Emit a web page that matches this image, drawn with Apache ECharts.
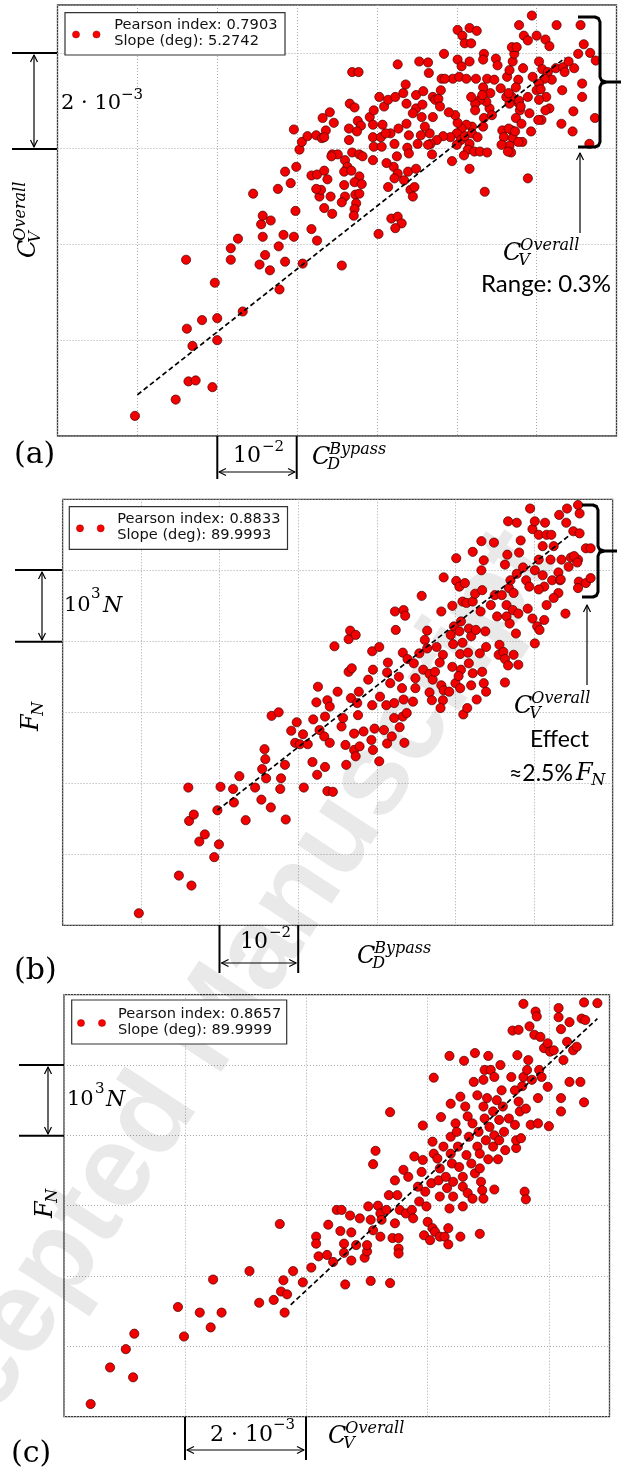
<!DOCTYPE html>
<html>
<head>
<meta charset="utf-8">
<script src="https://cdn.jsdelivr.net/npm/echarts@6/dist/echarts.min.js"></script>
<style>
  html, body { margin: 0; padding: 0; background: #fff; }
  #chart { width: 621px; height: 1473px; }
</style>
</head>
<body>
<div id="chart"></div>
<script>
// values are in grid units (one grid step = 10^-2 for C_D, 2*10^-3 for C_V, 10^3 N for F_N)

// (a) C_V^Overall vs C_D^Bypass
const pointsA = [
  [0.97,0.21],[1.48,0.38],[1.64,0.57],[1.73,0.58],[1.94,0.51],[1.69,0.94],[1.62,1.12],[1.81,1.21],[2.00,1.23],[2.00,1.00],
  [1.97,1.60],[1.61,1.84],[2.32,1.30],[2.78,1.53],[2.17,1.84],[2.17,1.96],[2.26,2.06],[2.45,2.53],[2.53,1.79],[2.60,1.89],
  [2.66,1.73],[2.57,2.08],[2.55,2.21],[2.57,2.30],[2.67,2.25],[2.77,1.98],[2.83,2.10],[2.85,1.82],[2.96,2.08],[2.98,2.35],
  [2.76,2.58],[2.92,2.64],[2.85,2.76],[2.99,2.81],[3.07,1.80],[3.18,2.16],[3.25,2.04],[3.56,1.78],[2.96,3.20],[3.03,2.99],
  [3.06,3.07],[3.13,3.13],[3.24,3.14],[3.31,3.11],[3.36,3.19],[3.32,3.32],[3.41,3.38],[3.46,3.27],[3.69,3.80],[3.77,3.80],
  [3.66,3.47],[3.72,3.43],[3.76,3.29],[3.91,3.33],[3.96,3.40],[4.03,3.54],[4.09,3.44],[4.26,3.88],[4.14,3.51],[4.23,3.54],
  [4.33,3.58],[4.36,3.67],[4.37,3.47],[4.49,3.42],[4.49,3.56],[4.58,3.60],[4.64,3.90],[4.65,3.79],[4.70,3.54],[4.73,3.51],
  [4.77,3.52],[4.84,3.99],[4.80,3.61],[4.81,3.73],[4.95,3.73],[5.01,4.24],[5.07,4.18],[5.16,4.26],[5.25,4.23],[5.10,4.10],
  [5.18,4.10],[5.01,3.93],[5.16,3.91],[5.06,3.86],[5.03,3.75],[5.12,3.73],[5.24,3.73],[5.34,3.99],[5.33,3.93],[5.38,3.73],
  [5.47,3.72],[5.49,3.94],[5.51,3.87],[5.42,3.58],[5.33,3.64],[5.55,3.63],[5.63,3.75],[5.66,3.82],[5.70,3.91],[5.72,3.99],
  [5.69,4.06],[5.75,4.06],[5.78,4.29],[5.84,4.18],[5.94,4.39],[5.89,4.13],[6.00,4.18],[6.11,4.14],[6.16,4.07],[6.25,4.29],
  [6.55,4.29],[6.59,4.09],[6.67,4.00],[6.74,3.92],[6.52,3.99],[6.57,3.68],[6.57,3.54],[6.46,3.39],[6.73,3.32],[6.31,3.26],
  [6.45,3.18],[6.66,3.05],[6.32,3.61],[6.16,3.42],[6.06,3.30],[5.93,3.18],[6.03,3.91],[6.07,3.83],[6.14,3.80],[6.24,3.84],
  [6.33,3.85],[6.40,3.91],[6.47,3.84],[6.35,3.80],[6.19,3.72],[6.10,3.73],[6.03,3.68],[6.00,3.61],[6.05,3.62],[6.12,3.54],
  [6.03,3.51],[5.95,3.75],[5.89,3.54],[5.83,3.84],[5.77,3.72],[5.74,3.64],[5.69,3.54],[5.77,3.48],[5.66,3.47],[5.62,3.54],
  [5.79,3.40],[5.74,3.32],[5.81,3.26],[5.69,3.19],[5.57,3.19],[5.59,3.12],[5.70,3.11],[5.66,3.03],[5.56,3.04],[5.68,2.96],
  [5.82,3.07],[5.89,2.69],[5.41,3.42],[5.37,3.49],[5.29,3.51],[5.23,3.47],[5.18,3.54],[5.23,3.40],[5.34,3.32],[5.33,3.23],
  [5.19,3.23],[5.12,3.25],[5.06,3.21],[5.01,3.27],[4.98,3.35],[5.00,3.16],[5.05,3.09],[5.00,3.04],[5.10,3.13],[5.19,3.16],
  [5.26,3.12],[5.16,3.05],[5.14,2.99],[5.22,2.97],[5.29,2.97],[5.38,2.96],[5.09,2.93],[5.16,2.79],[5.35,2.55],[4.92,3.12],
  [4.83,3.13],[4.75,3.09],[4.67,3.05],[4.66,3.16],[4.60,3.23],[4.55,3.14],[4.51,3.05],[4.64,3.04],[4.69,2.94],[4.90,3.38],
  [4.79,3.44],[4.70,3.33],[4.56,3.33],[4.57,3.46],[4.45,3.37],[4.37,3.26],[4.40,3.14],[4.27,3.21],[4.17,3.16],[4.22,3.05],
  [4.38,3.01],[4.40,2.95],[4.25,2.92],[4.21,2.81],[4.12,2.85],[4.26,2.74],[4.39,2.76],[4.49,2.79],[4.42,2.57],[4.45,2.50],
  [4.34,2.67],[4.22,2.69],[4.14,2.60],[4.18,2.27],[4.26,2.29],[4.31,2.22],[4.23,2.17],[4.02,2.11],[3.95,2.88],[3.96,3.02],
  [3.95,3.12],[4.05,3.12],[4.07,3.25],[3.95,3.25],[3.80,3.24],[3.65,3.21],[3.65,3.09],[3.69,2.96],[3.78,2.94],[3.82,2.92],
  [3.44,2.94],[3.51,2.94],[3.60,2.88],[3.63,2.81],[3.59,2.76],[3.68,2.77],[3.78,2.71],[3.72,2.65],[3.59,2.62],[3.60,2.50],
  [3.56,2.44],[3.73,2.52],[3.74,2.43],[3.72,2.37],[3.71,2.30],[3.44,2.32],[3.34,2.38],[3.42,2.50],[3.28,2.50],[3.30,2.57],
  [3.24,2.58],[3.18,2.72],[3.25,2.73],[3.34,2.77],[3.38,2.68],[3.34,3.12],[3.75,3.18],[4.06,3.02],[4.11,3.16],[4.47,2.60],
  [3.43,2.92],[4.94,2.87],[4.85,3.73],[5.44,3.35],[3.81,2.63],[3.78,2.53],[4.53,3.91],[5.32,3.56],[5.65,3.58],[5.78,3.50],
  [5.80,3.44],[5.91,3.37],[5.64,2.97],[5.65,3.21],[5.73,3.18],[5.77,3.07],[6.11,3.40],[6.02,3.30]
];
const trendA = [[1.00, 0.43], [6.36, 3.95]];
const legendA = ['Pearson index: 0.7903', 'Slope (deg): 5.2742'];

// (b) F_N vs C_D^Bypass
const pointsB = [
  [0.97,0.17],[1.48,0.70],[1.64,0.56],[1.74,1.18],[1.81,1.28],[1.61,1.47],[1.67,1.56],[1.93,0.96],[1.99,1.14],[1.97,1.62],
  [1.60,1.94],[2.01,1.95],[2.17,1.92],[2.18,1.73],[2.25,2.10],[2.33,1.48],[2.45,1.94],[2.53,1.77],[2.54,2.20],[2.58,2.34],
  [2.57,2.48],[2.59,2.07],[2.65,1.66],[2.77,1.92],[2.78,2.07],[2.83,2.26],[2.84,1.49],[2.66,2.95],[2.75,3.00],[2.91,2.74],
  [2.98,2.86],[2.96,2.57],[3.02,2.55],[3.06,2.69],[3.07,1.94],[3.12,2.55],[3.18,2.30],[3.24,2.12],[3.34,2.23],[3.37,1.89],
  [3.44,1.88],[3.19,2.90],[3.23,3.14],[3.25,3.36],[3.34,2.94],[3.37,3.17],[3.40,3.08],[3.27,2.75],[3.33,2.66],[3.40,2.57],
  [3.46,3.93],[3.50,3.29],[3.55,2.80],[3.60,2.54],[3.57,2.92],[3.61,2.26],[3.64,4.03],[3.66,4.15],[3.73,4.09],[3.64,3.57],
  [3.68,3.62],[3.67,3.20],[3.77,3.29],[3.75,3.13],[3.76,2.96],[3.71,2.70],[3.71,2.47],[3.73,2.38],[3.78,2.52],[3.83,2.73],
  [3.89,3.46],[3.94,3.86],[4.03,3.92],[3.95,3.60],[3.94,3.10],[3.97,2.77],[3.93,2.61],[3.95,2.47],[4.03,2.31],[4.09,2.75],
  [4.04,3.22],[4.12,3.10],[4.14,3.70],[4.13,3.56],[4.17,3.41],[4.22,3.13],[4.22,2.92],[4.13,2.56],[4.19,2.66],[4.23,4.42],
  [4.34,4.44],[4.36,4.36],[4.24,4.16],[4.33,3.84],[4.39,3.75],[4.28,3.50],[4.32,3.34],[4.34,3.18],[4.33,2.94],[4.38,2.99],
  [4.29,2.79],[4.35,2.57],[4.47,3.69],[4.54,3.83],[4.49,3.48],[4.49,3.34],[4.46,3.15],[4.57,4.64],[4.64,4.15],[4.61,4.02],
  [4.64,3.90],[4.59,3.60],[4.67,3.54],[4.71,3.46],[4.67,3.28],[4.70,3.17],[4.76,3.92],[4.74,3.57],[4.82,3.38],[4.84,3.81],
  [4.80,3.70],[4.82,4.42],[4.85,4.90],[4.85,3.31],[4.84,3.17],[4.81,3.06],[4.96,4.50],[4.98,4.21],[4.94,4.09],[4.97,3.96],
  [4.96,3.64],[5.00,3.41],[4.92,3.29],[5.01,5.17],[5.01,4.85],[5.05,4.77],[5.09,4.56],[5.12,4.82],[5.07,4.28],[5.05,4.14],
  [5.09,3.98],[5.06,3.82],[5.07,3.60],[5.04,3.51],[5.06,3.34],[5.10,2.97],[5.15,3.06],[5.14,4.54],[5.22,4.56],[5.22,5.26],
  [5.25,4.67],[5.17,4.18],[5.20,4.07],[5.16,3.84],[5.17,3.69],[5.22,3.55],[5.20,3.38],[5.27,3.18],[5.26,4.16],[5.32,4.42],
  [5.34,4.72],[5.33,5.00],[5.33,5.41],[5.36,5.14],[5.31,3.83],[5.34,3.57],[5.36,3.41],[5.39,3.29],[5.38,4.14],[5.39,3.92],
  [5.45,4.51],[5.49,5.39],[5.50,4.65],[5.53,4.35],[5.56,3.95],[5.55,3.81],[5.61,3.85],[5.63,3.75],[5.63,3.42],[5.67,3.66],
  [5.74,3.81],[5.80,3.67],[5.65,4.35],[5.69,4.25],[5.65,4.51],[5.73,4.44],[5.77,4.11],[5.80,4.39],[5.68,4.75],[5.70,4.86],
  [5.74,4.68],[5.78,4.95],[5.59,4.65],[5.63,5.08],[5.66,5.22],[5.67,5.69],[5.78,5.67],[5.83,5.42],[5.81,5.25],[5.86,5.04],
  [5.90,4.86],[5.94,4.77],[5.92,4.46],[5.98,4.32],[6.01,3.97],[6.04,4.21],[6.07,4.16],[5.95,5.87],[5.98,5.58],[6.01,5.69],
  [6.06,5.50],[6.16,5.50],[6.22,5.50],[6.14,5.67],[6.11,5.34],[6.06,5.15],[6.01,5.00],[6.11,4.93],[6.13,4.77],[6.06,4.73],
  [6.21,5.15],[6.25,5.34],[6.23,4.86],[6.31,4.97],[6.33,4.86],[6.31,4.68],[6.25,4.61],[6.16,4.51],[6.13,4.30],[6.40,4.39],
  [6.32,5.78],[6.41,5.67],[6.42,5.87],[6.50,5.55],[6.56,5.92],[6.58,5.80],[6.58,5.52],[6.35,5.15],[6.44,5.05],[6.47,5.18],
  [6.56,5.15],[6.66,5.31],[6.72,5.31],[6.57,4.84],[6.66,4.82],[6.72,4.89],[6.56,4.75],[6.51,5.20],[6.55,5.11],[6.34,4.87]
];
const trendB = [[1.97, 1.62], [6.46, 5.50]];
const legendB = ['Pearson index: 0.8833', 'Slope (deg): 89.9993'];

// (c) F_N vs C_V^Overall
const pointsC = [
  [0.22,0.18],[0.38,0.70],[0.57,0.56],[0.51,0.96],[0.58,1.18],[0.94,1.56],[0.99,1.14],[1.12,1.48],[1.21,1.27],[1.30,1.48],
  [1.23,1.95],[1.53,2.07],[1.61,1.62],[1.73,1.66],[1.79,1.78],[1.84,1.74],[1.82,1.48],[1.81,1.94],[1.89,2.07],[1.97,1.91],
  [1.78,2.74],[2.04,2.12],[2.08,2.56],[2.08,2.46],[2.10,2.28],[2.17,2.30],[2.22,2.20],[2.18,2.73],[2.25,2.94],[2.29,2.94],
  [2.28,2.64],[2.31,2.46],[2.31,2.33],[2.32,1.88],[2.36,2.86],[2.37,2.62],[2.37,2.22],[2.41,2.44],[2.44,2.82],[2.48,2.26],
  [2.50,2.35],[2.50,2.44],[2.51,2.99],[2.53,2.80],[2.53,1.93],[2.55,2.65],[2.57,3.78],[2.55,3.59],[2.59,3.00],[2.61,2.89],
  [2.62,2.80],[2.61,2.56],[2.66,2.94],[2.68,3.15],[2.69,4.33],[2.69,1.90],[2.71,2.54],[2.73,2.75],[2.76,2.54],[2.76,2.39],
  [2.76,2.32],[2.73,3.36],[2.75,3.15],[2.77,2.94],[2.80,3.51],[2.82,2.89],[2.84,3.41],[2.87,2.94],[2.88,2.82],[2.89,3.70],
  [2.92,3.27],[2.93,3.06],[2.95,3.48],[2.96,3.65],[2.96,4.14],[2.97,2.58],[2.98,3.20],[2.99,2.99],[3.00,2.77],[3.02,2.51],
  [3.04,2.68],[3.03,3.32],[3.04,3.91],[3.05,3.74],[3.05,4.82],[3.06,2.63],[3.10,2.56],[3.08,3.67],[3.10,3.53],[3.09,3.36],
  [3.10,3.13],[3.11,4.26],[3.13,3.84],[3.14,2.56],[3.15,3.41],[3.16,3.25],[3.17,2.68],[3.17,2.45],[3.18,5.13],[3.18,2.96],
  [3.19,4.45],[3.19,3.98],[3.19,3.74],[3.20,3.60],[3.21,3.34],[3.21,3.13],[3.23,4.17],[3.24,4.05],[3.25,3.84],[3.26,3.55],
  [3.27,4.55],[3.27,2.56],[3.29,2.99],[3.29,3.41],[3.29,3.27],[3.30,5.06],[3.31,4.41],[3.32,3.72],[3.33,4.27],[3.33,3.18],
  [3.34,3.98],[3.36,3.60],[3.37,4.17],[3.38,4.76],[3.37,3.10],[3.39,5.17],[3.39,3.46],[3.41,3.84],[3.41,4.57],[3.42,4.05],
  [3.43,3.74],[3.43,3.53],[3.43,2.60],[3.44,3.34],[3.45,3.22],[3.46,4.41],[3.46,3.10],[3.46,4.79],[3.47,4.24],[3.47,4.93],
  [3.48,3.93],[3.49,4.53],[3.50,3.66],[3.50,5.13],[3.51,4.12],[3.52,4.93],[3.54,4.34],[3.54,3.84],[3.55,3.23],[3.55,4.83],
  [3.55,4.00],[3.57,4.50],[3.58,3.66],[3.59,4.22],[3.59,3.93],[3.60,5.00],[3.61,4.64],[3.62,4.41],[3.63,4.05],[3.64,3.79],
  [3.67,4.24],[3.69,4.83],[3.70,5.49],[3.72,4.64],[3.72,4.15],[3.73,3.82],[3.73,3.93],[3.74,5.14],[3.75,5.50],[3.75,4.48],
  [3.76,4.34],[3.77,3.96],[3.78,4.70],[3.79,5.87],[3.79,4.83],[3.80,3.20],[3.81,3.09],[3.81,4.38],[3.82,4.93],[3.83,5.07],
  [3.84,5.55],[3.85,4.15],[3.86,4.79],[3.88,5.43],[3.89,5.76],[3.90,5.69],[3.91,4.17],[3.91,4.53],[3.92,4.93],[3.93,5.40],
  [3.94,4.83],[3.96,5.24],[3.99,5.31],[3.99,4.69],[4.00,4.13],[4.01,5.19],[4.04,5.21],[4.08,5.81],[4.08,5.68],[4.10,4.53],
  [4.10,5.51],[4.10,4.34],[4.12,5.07],[4.15,5.33],[4.17,5.61],[4.17,4.76],[4.20,5.21],[4.23,5.26],[4.26,4.76],[4.27,5.66],
  [4.29,5.89],[4.29,4.47],[4.30,5.64],[4.40,5.88]
];
const trendC = [[1.87, 1.59], [4.40, 5.66]];
const legendC = ['Pearson index: 0.8657', 'Slope (deg): 89.9999'];

// layout of the three panels (pixels)
const panels = [
  { pts: pointsA, trend: trendA, legend: legendA, xMax: 7, yMax: 4.5,
    grid: { left: 57.5, top: 5, width: 559, height: 431 },
    box: [65, 12.7, 220, 42.3], dotY: 34.5, dotX: [76, 96.5], textX: 114.3, textY: [25, 41.7] },
  { pts: pointsB, trend: trendB, legend: legendB, xMax: 7, yMax: 6,
    grid: { left: 62.6, top: 499.3, width: 550, height: 426 },
    box: [69.3, 506.7, 218.2, 42.6], dotY: 528.3, dotX: [80, 100.7], textX: 117.3, textY: [519.3, 535] },
  { pts: pointsC, trend: trendC, legend: legendC, xMax: 4.5, yMax: 6,
    grid: { left: 64, top: 994.7, width: 545.5, height: 422 },
    box: [71.7, 1000, 215, 44], dotY: 1023, dotX: [81, 102], textX: 118, textY: [1014.3, 1030.7] }
];

const SERIF = '"DejaVu Serif"';
const g = [];

function text(x, y, s, font, extra) {
  return { type: 'text', x: x, y: y, z: 100,
    style: Object.assign({ text: s, font: font, fill: '#000',
      align: 'left', verticalAlign: 'middle', textAlign: 'left', textVerticalAlign: 'middle' }, extra || {}) };
}
function seg(x1, y1, x2, y2, w) {
  return { type: 'line', z: 100, shape: { x1: x1, y1: y1, x2: x2, y2: y2 }, style: { stroke: '#000', lineWidth: w } };
}
function poly(points, w) {
  return { type: 'polyline', z: 100, shape: { points: points }, style: { stroke: '#000', lineWidth: w, fill: 'none', lineJoin: 'round' } };
}
function arrow(x1, y1, x2, y2, both) {
  const out = [seg(x1, y1, x2, y2, 1.2)];
  const len = Math.hypot(x2 - x1, y2 - y1), dx = (x2 - x1) / len, dy = (y2 - y1) / len;
  const head = (tx, ty, ux, uy) => poly([[tx - ux * 7 - uy * 3.5, ty - uy * 7 + ux * 3.5], [tx, ty], [tx - ux * 7 + uy * 3.5, ty - uy * 7 - ux * 3.5]], 1.2);
  out.push(head(x2, y2, dx, dy));
  if (both) out.push(head(x1, y1, -dx, -dy));
  return out;
}
// curly bracket "}" from top to bottom at column x, tip reaching tipX
function brace(x0, x, top, bottom, tipX) {
  const mid = (top + bottom) / 2;
  return [
    poly([[x0, top], [x - 5, top], [x - 1.5, top + 1.5], [x, top + 5], [x, mid - 5], [x + 1.5, mid - 1.5], [x + 6, mid], [tipX, mid]], 3),
    poly([[x + 6, mid], [x + 1.5, mid + 1.5], [x, mid + 5], [x, bottom - 5], [x - 1.5, bottom - 1.5], [x - 5, bottom], [x0, bottom]], 3)
  ];
}
// math symbol like C_V^Overall
function sym(x, y, base, sub, sup, fs, rot) {
  const s = Math.round(fs * 0.66), off = fs * 0.72;
  const ch = [text(0, 0, base, 'italic ' + fs + 'px ' + SERIF)];
  if (sup) ch.push(text(off, -fs * 0.36, sup, 'italic ' + s + 'px ' + SERIF));
  if (sub) ch.push(text(off - 2, fs * 0.3, sub, 'italic ' + s + 'px ' + SERIF));
  return { type: 'group', x: x, y: y, rotation: rot || 0, z: 100, children: ch };
}

// watermark
g.push({ type: 'text', x: 208, y: 1034, rotation: 56.7 * Math.PI / 180, z: 1,
  style: { text: 'Accepted Manuscript', font: 'bold 116px "Liberation Sans"', fill: 'rgba(0,0,0,0.085)',
    align: 'center', verticalAlign: 'middle', textAlign: 'center', textVerticalAlign: 'middle' } });

// legends
panels.forEach(p => {
  g.push({ type: 'rect', z: 50, shape: { x: p.box[0], y: p.box[1], width: p.box[2], height: p.box[3] },
    style: { fill: '#fff', stroke: '#333', lineWidth: 1.2 } });
  p.dotX.forEach(cx => g.push({ type: 'circle', z: 51, shape: { cx: cx, cy: p.dotY, r: 3.6 }, style: { fill: '#f00', stroke: '#700', lineWidth: 0.4 } }));
  p.legend.forEach((s, k) => g.push(text(p.textX, p.textY[k], s, '14.6px "DejaVu Sans"', { fill: '#111' })));
});

// (a) annotations
g.push(seg(12, 53, 57, 53, 2), seg(12, 149, 57, 149, 2), ...arrow(34, 55, 34, 147, true));
g.push(text(61, 104, '2 · 10', '21px ' + SERIF), text(121, 95, '−3', '15px ' + SERIF));
g.push(sym(29, 258, 'C', 'V', 'Overall', 24, Math.PI / 2));
g.push(seg(217.3, 436, 217.3, 479, 2), seg(296.7, 436, 296.7, 479, 2), ...arrow(219, 472, 295, 472, true));
g.push(text(233, 456, '10', '22px ' + SERIF), text(262, 447, '−2', '15px ' + SERIF));
g.push(sym(312, 458, 'C', 'D', 'Bypass', 24));
g.push(text(14, 455, '(a)', '30px ' + SERIF));
g.push(...brace(578, 600, 17, 147, 621));
g.push(...arrow(580, 233, 580, 153, false));
g.push(sym(503, 254, 'C', 'V', 'Overall', 24));
g.push(text(481, 284, 'Range: 0.3%', '24px Lato'));

// (b) annotations
g.push(seg(15, 570, 62, 570, 2), seg(15, 641.7, 62, 641.7, 2), ...arrow(42, 572, 42, 640, true));
g.push(text(64, 606, '10', '21px ' + SERIF), text(91, 594, '3', '15px ' + SERIF), text(103, 606, 'N', 'italic 22px ' + SERIF));
g.push(sym(32, 731, 'F', 'N', null, 24, Math.PI / 2));
g.push(seg(219.5, 925, 219.5, 973, 2), seg(298.2, 925, 298.2, 973, 2), ...arrow(221.5, 963, 296.2, 963, true));
g.push(text(240, 942, '10', '22px ' + SERIF), text(269, 933, '−2', '15px ' + SERIF));
g.push(sym(357, 957, 'C', 'D', 'Bypass', 24));
g.push(text(14, 971, '(b)', '30px ' + SERIF));
g.push(...brace(582, 598, 505, 597, 617));
g.push(...arrow(587, 685, 587, 605, false));
g.push(sym(514, 707, 'C', 'V', 'Overall', 24));
g.push(text(530, 740, 'Effect', '23px Lato'));
g.push(text(509, 774, '≈2.5%', '23px Lato'), sym(576, 774, 'F', 'N', null, 24));

// (c) annotations
g.push(seg(19, 1065, 64, 1065, 2), seg(19, 1135.7, 64, 1135.7, 2), ...arrow(48, 1067, 48, 1134, true));
g.push(text(67, 1100, '10', '21px ' + SERIF), text(95, 1089, '3', '15px ' + SERIF), text(106, 1100, 'N', 'italic 22px ' + SERIF));
g.push(sym(46, 1218, 'F', 'N', null, 24, Math.PI / 2));
g.push(seg(185, 1417, 185, 1460, 2), seg(306, 1417, 306, 1460, 2), ...arrow(187, 1450, 304, 1450, true));
g.push(text(210, 1435, '2 · 10', '22px ' + SERIF), text(273, 1425, '−3', '15px ' + SERIF));
g.push(sym(328, 1437, 'C', 'V', 'Overall', 24));
g.push(text(11, 1454, '(c)', '30px ' + SERIF));

const chart = echarts.init(document.getElementById('chart'), null, { renderer: 'canvas' });
chart.setOption({
  animation: false,
  backgroundColor: '#fff',
  grid: panels.map(p => Object.assign({ show: true, borderColor: '#3a3a3a', borderWidth: 1.3, backgroundColor: 'transparent' }, p.grid)),
  xAxis: panels.map((p, i) => ({
    gridIndex: i, type: 'value', min: 0, max: p.xMax, interval: 1,
    axisLine: { show: false }, axisTick: { show: false }, axisLabel: { show: false },
    splitLine: { show: true, lineStyle: { color: '#a8a8a8', width: 1, type: [1, 2] } }
  })),
  yAxis: panels.map((p, i) => ({
    gridIndex: i, type: 'value', min: 0, max: p.yMax, interval: 1,
    axisLine: { show: false }, axisTick: { show: false }, axisLabel: { show: false },
    splitLine: { show: true, lineStyle: { color: '#a8a8a8', width: 1, type: [1, 2] } }
  })),
  series: panels.flatMap((p, i) => [
    { type: 'scatter', xAxisIndex: i, yAxisIndex: i, data: p.pts, symbolSize: 9.2, z: 3, silent: true,
      itemStyle: { color: '#f20000', borderColor: '#450000', borderWidth: 0.7, opacity: 1 } },
    { type: 'line', xAxisIndex: i, yAxisIndex: i, data: p.trend, symbol: 'none', z: 4, silent: true,
      lineStyle: { color: '#000', width: 1.7, type: [5, 3] } }
  ]),
  graphic: { elements: g }
});
</script>
</body>
</html>
